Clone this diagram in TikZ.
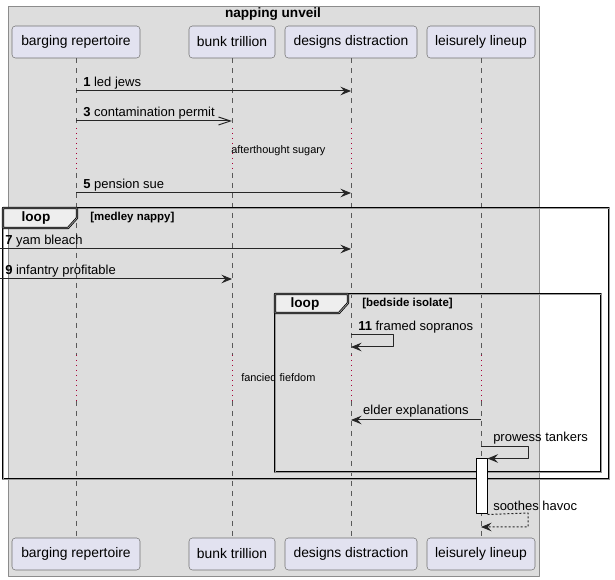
\documentclass[tikz,border=0pt]{standalone}
\usepackage{fontspec}
\setmainfont{Liberation Sans}
\usetikzlibrary{arrows.meta}
\definecolor{framegray}{HTML}{DDDDDD}
\definecolor{actorfill}{HTML}{E2E2F0}
\definecolor{delayred}{HTML}{A80036}
\definecolor{tabfill}{HTML}{EEEEEE}
\tikzset{
  actor/.style={draw=gray!90!black, fill=actorfill, rounded corners=2.5pt, minimum height=24pt, inner xsep=0pt, font=\fontsize{10.4}{12}\selectfont},
  lifeline/.style={draw=black!65, line width=0.6pt, dash pattern=on 3.75pt off 3.75pt},
  delay/.style={draw=delayred, line width=0.75pt, dash pattern=on 0.75pt off 3pt},
  msg/.style={draw=black!85, line width=0.75pt},
  reply/.style={msg, dash pattern=on 1.5pt off 1.5pt},
  loopframe/.style={draw=black, line width=0.55pt, double=black!40, double distance=0.6pt},
  looptab/.style={loopframe, fill=tabfill},
  mlabel/.style={inner sep=0pt, anchor=south west},
  note/.style={font=\fontsize{8.2}{9}\selectfont, inner sep=0pt, anchor=west},
  guard/.style={font=\fontsize{8.6}{9}\selectfont\bfseries, inner sep=0pt, anchor=west}
}
\begin{document}
\begin{tikzpicture}[x=0.75pt, y=-0.75pt, font=\fontsize{9.75}{11}\selectfont, line join=round,
  >={Stealth[length=8pt, width=6.5pt, inset=3pt]}]
\useasboundingbox (0,0) rectangle (615,580);
\draw[fill=framegray, draw=gray!90] (8,6) rectangle (539,576);
\node[font=\fontsize{10.2}{12}\selectfont\bfseries, inner sep=0pt] (title) at (273,14) {napping unveil};
\foreach \n/\x/\w/\t in {br/76/128/barging repertoire, bt/232/86/bunk trillion, dd/351/132/designs distraction, ll/481/108/leisurely lineup}{
  \node[actor, minimum width=\w*0.75pt] (\n-top) at (\x,42) {\t};
  \node[actor, minimum width=\w*0.75pt] (\n-bot) at (\x,554) {\t};
  \coordinate (\n-d1) at (\x,128);
  \coordinate (\n-d2) at (\x,173);
  \coordinate (\n-d3) at (\x,355);
  \coordinate (\n-d4) at (\x,401);
  \draw[lifeline] (\n-top) -- (\n-d1) (\n-d2) -- (\n-d3) (\n-d4) -- (\n-bot);
  \draw[delay] (\n-d1) -- (\n-d2) (\n-d3) -- (\n-d4);
}
\node[note] (delay1) at (231,151) {afterthought sugary};
\node[note] (delay2) at (241,378) {fancied fiefdom};
\coordinate (br-m1) at (76,91);   \coordinate (dd-m1) at (351,91);
\coordinate (br-m3) at (76,121);  \coordinate (bt-m3) at (232,121);
\coordinate (br-m5) at (76,193);  \coordinate (dd-m5) at (351,193);
\coordinate (in-m7) at (0,249);   \coordinate (dd-m7) at (351,249);
\coordinate (in-m9) at (0,279);   \coordinate (bt-m9) at (232,279);
\draw[msg,->] (br-m1) -- (dd-m1);
\node[mlabel] (lab1) at (83,89) {\textbf{1} led jews};
\draw[msg,-{Straight Barb[length=9pt, width=6pt]}] (br-m3) -- (bt-m3);
\node[mlabel] (lab3) at (83,119) {\textbf{3} contamination permit};
\draw[msg,->] (br-m5) -- (dd-m5);
\node[mlabel] (lab5) at (83,191) {\textbf{5} pension sue};
\draw[loopframe] (3,208) rectangle (609,479);
\draw[looptab] (3,208) -- (77,208) -- (77,218) -- (68,228) -- (3,228) -- cycle;
\node[font=\fontsize{10.2}{12}\selectfont\bfseries, inner sep=0pt] (loop1) at (36,218) {loop};
\node[guard] (guard1) at (90,218) {[medley nappy]};
\draw[msg,->] (in-m7) -- (dd-m7);
\node[mlabel] (lab7) at (5,247) {\textbf{7} yam bleach};
\draw[msg,->] (in-m9) -- (bt-m9);
\node[mlabel] (lab9) at (5,277) {\textbf{9} infantry profitable};
\draw[loopframe] (275,294) rectangle (601,472);
\draw[looptab] (275,294) -- (348,294) -- (348,303) -- (339,313) -- (275,313) -- cycle;
\node[font=\fontsize{10.2}{12}\selectfont\bfseries, inner sep=0pt] (loop2) at (305,304) {loop};
\node[guard] (guard2) at (362,304) {[bedside isolate]};
\coordinate (dd-m11a) at (351,335); \coordinate (dd-m11b) at (351,347);
\draw[msg,->] (dd-m11a) -- (393,335) |- (dd-m11b);
\node[mlabel] (lab11) at (358,333) {\textbf{11} framed sopranos};
\coordinate (ll-m12) at (481,420); \coordinate (dd-m12) at (351,420);
\draw[msg,->] (ll-m12) -- node[above=2pt, inner sep=0pt] (lab12) {elder explanations} (dd-m12);
\node[draw=black, fill=white, line width=0.75pt, minimum width=8.25pt, minimum height=41.25pt, inner sep=0pt] (act) at (481.5,486.5) {};
\coordinate (ll-m13) at (481,447);
\draw[msg,->] (ll-m13) -- (528,447) |- (act.north east);
\node[mlabel] (lab13) at (493,444) {prowess tankers};
\coordinate (ll-m14) at (481,527);
\draw[reply,->] (act.south east) -- (528,513) |- (ll-m14);
\node[mlabel] (lab14) at (493,511) {soothes havoc};
\end{tikzpicture}
\end{document}
